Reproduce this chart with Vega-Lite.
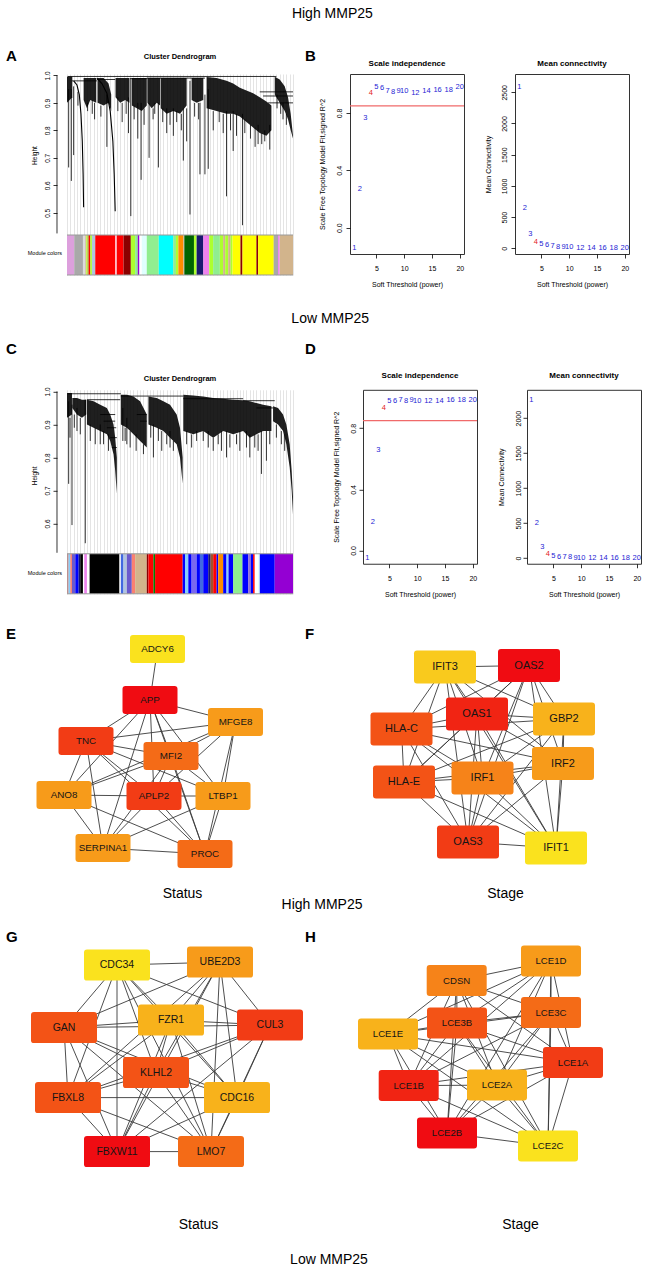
{
 "$schema": "https://vega.github.io/schema/vega-lite/v6.json",
 "background": "white",
 "padding": {"left": 6, "top": 6, "right": 2, "bottom": 2},
 "autosize": {"type": "pad"},
 "config": {
  "font": "Liberation Sans",
  "view": {"stroke": null},
  "axis": {"labelColor": "#000", "titleColor": "#000", "tickColor": "#000", "domainColor": "#000", "labelFont": "Liberation Sans", "titleFont": "Liberation Sans", "titleFontWeight": "normal", "grid": false},
  "title": {"font": "Liberation Sans", "color": "#000"}
 },
 "datasets": {
  "hi_sft": [
   {"power": 1, "r2": -0.144, "k": 2580}, {"power": 2, "r2": 0.267, "k": 641}, {"power": 3, "r2": 0.767, "k": 230},
   {"power": 4, "r2": 0.937, "k": 107}, {"power": 5, "r2": 0.984, "k": 69}, {"power": 6, "r2": 0.972, "k": 48},
   {"power": 7, "r2": 0.953, "k": 34}, {"power": 8, "r2": 0.947, "k": 25}, {"power": 9, "r2": 0.956, "k": 19},
   {"power": 10, "r2": 0.953, "k": 15}, {"power": 12, "r2": 0.942, "k": 10}, {"power": 14, "r2": 0.953, "k": 7},
   {"power": 16, "r2": 0.963, "k": 5}, {"power": 18, "r2": 0.96, "k": 4}, {"power": 20, "r2": 0.979, "k": 3}
  ],
  "lo_sft": [
   {"power": 1, "r2": -0.048, "k": 2262}, {"power": 2, "r2": 0.186, "k": 500}, {"power": 3, "r2": 0.659, "k": 157},
   {"power": 4, "r2": 0.934, "k": 62}, {"power": 5, "r2": 0.976, "k": 33}, {"power": 6, "r2": 0.98, "k": 22},
   {"power": 7, "r2": 0.983, "k": 16}, {"power": 8, "r2": 0.978, "k": 12}, {"power": 9, "r2": 0.983, "k": 9},
   {"power": 10, "r2": 0.98, "k": 7}, {"power": 12, "r2": 0.98, "k": 5}, {"power": 14, "r2": 0.98, "k": 3},
   {"power": 16, "r2": 0.987, "k": 2}, {"power": 18, "r2": 0.983, "k": 2}, {"power": 20, "r2": 0.983, "k": 1}
  ],
  "dA_canopy": [
   {"seg": 1, "u": 0, "top": 0.996, "bot": 0.9}, {"seg": 1, "u": 1.6, "top": 0.996, "bot": 0.92},
   {"seg": 2, "u": 5, "top": 0.99, "bot": 0.91}, {"seg": 2, "u": 6, "top": 0.99, "bot": 0.88}, {"seg": 2, "u": 7, "top": 0.99, "bot": 0.91}, {"seg": 2, "u": 8.8, "top": 0.99, "bot": 0.9},
   {"seg": 3, "u": 9.2, "top": 0.99, "bot": 0.9}, {"seg": 3, "u": 11, "top": 0.99, "bot": 0.89}, {"seg": 3, "u": 12.5, "top": 0.97, "bot": 0.9}, {"seg": 3, "u": 13.3, "top": 0.93, "bot": 0.87},
   {"seg": 4, "u": 14.6, "top": 0.99, "bot": 0.92}, {"seg": 4, "u": 16, "top": 0.99, "bot": 0.9}, {"seg": 4, "u": 17.5, "top": 0.99, "bot": 0.91}, {"seg": 4, "u": 18.8, "top": 0.99, "bot": 0.9},
   {"seg": 5, "u": 19.5, "top": 0.99, "bot": 0.89}, {"seg": 5, "u": 21, "top": 0.99, "bot": 0.88}, {"seg": 5, "u": 22.5, "top": 0.99, "bot": 0.87}, {"seg": 5, "u": 24, "top": 0.99, "bot": 0.89},
   {"seg": 6, "u": 24.2, "top": 0.99, "bot": 0.9}, {"seg": 6, "u": 25.5, "top": 0.99, "bot": 0.88}, {"seg": 6, "u": 27, "top": 0.99, "bot": 0.9}, {"seg": 6, "u": 28, "top": 0.99, "bot": 0.89},
   {"seg": 7, "u": 28.2, "top": 0.99, "bot": 0.88}, {"seg": 7, "u": 30, "top": 0.99, "bot": 0.86}, {"seg": 7, "u": 32, "top": 0.99, "bot": 0.87}, {"seg": 7, "u": 34, "top": 0.99, "bot": 0.86}, {"seg": 7, "u": 36, "top": 0.99, "bot": 0.89},
   {"seg": 8, "u": 37.5, "top": 0.99, "bot": 0.91}, {"seg": 8, "u": 39, "top": 0.99, "bot": 0.9}, {"seg": 8, "u": 41, "top": 0.99, "bot": 0.91},
   {"seg": 9, "u": 42, "top": 0.994, "bot": 0.88}, {"seg": 9, "u": 45, "top": 0.99, "bot": 0.87}, {"seg": 9, "u": 48, "top": 0.98, "bot": 0.86}, {"seg": 9, "u": 50, "top": 0.97, "bot": 0.86}, {"seg": 9, "u": 52, "top": 0.955, "bot": 0.85}, {"seg": 9, "u": 54, "top": 0.945, "bot": 0.83}, {"seg": 9, "u": 56, "top": 0.935, "bot": 0.81}, {"seg": 9, "u": 58, "top": 0.92, "bot": 0.79}, {"seg": 9, "u": 60, "top": 0.905, "bot": 0.78}, {"seg": 9, "u": 61.5, "top": 0.89, "bot": 0.8},
   {"seg": 10, "u": 62.5, "top": 0.995, "bot": 0.93}, {"seg": 10, "u": 64, "top": 0.985, "bot": 0.9}, {"seg": 10, "u": 65.5, "top": 0.96, "bot": 0.87}, {"seg": 10, "u": 66.5, "top": 0.92, "bot": 0.84}, {"seg": 10, "u": 67.3, "top": 0.86, "bot": 0.8}, {"seg": 10, "u": 68, "top": 0.78, "bot": 0.77}
  ],
  "dA_curves": [
   {"c": 1, "u": 2, "h": 0.98}, {"c": 1, "u": 3, "h": 0.965}, {"c": 1, "u": 3.7, "h": 0.93}, {"c": 1, "u": 4.2, "h": 0.86}, {"c": 1, "u": 4.6, "h": 0.76}, {"c": 1, "u": 4.85, "h": 0.64}, {"c": 1, "u": 5, "h": 0.52},
   {"c": 2, "u": 9, "h": 0.99}, {"c": 2, "u": 10.5, "h": 0.97}, {"c": 2, "u": 12, "h": 0.935}, {"c": 2, "u": 13, "h": 0.87}, {"c": 2, "u": 13.8, "h": 0.76}, {"c": 2, "u": 14.2, "h": 0.64}, {"c": 2, "u": 14.5, "h": 0.506}
  ],
  "dA_strands": [
   {"u": 0.5, "top": 0.95, "bot": 0.665}, {"u": 1.3, "top": 0.95, "bot": 0.616}, {"u": 2.0, "top": 0.96, "bot": 0.71}, {"u": 6.2, "top": 0.9, "bot": 0.87},
   {"u": 12, "top": 0.93, "bot": 0.74}, {"u": 18.5, "top": 0.92, "bot": 0.79}, {"u": 19.2, "top": 0.99, "bot": 0.488}, {"u": 21.3, "top": 0.9, "bot": 0.77},
   {"u": 22.3, "top": 0.9, "bot": 0.62}, {"u": 24.7, "top": 0.9, "bot": 0.7}, {"u": 27.5, "top": 0.9, "bot": 0.665}, {"u": 30, "top": 0.88, "bot": 0.79},
   {"u": 32, "top": 0.88, "bot": 0.78}, {"u": 35, "top": 0.88, "bot": 0.69}, {"u": 36, "top": 0.88, "bot": 0.76}, {"u": 37, "top": 0.98, "bot": 0.494},
   {"u": 40, "top": 0.9, "bot": 0.64}, {"u": 41.5, "top": 0.93, "bot": 0.64}, {"u": 42.5, "top": 0.95, "bot": 0.66}, {"u": 48, "top": 0.87, "bot": 0.56},
   {"u": 50, "top": 0.87, "bot": 0.725}, {"u": 52.8, "top": 0.86, "bot": 0.455}, {"u": 57.5, "top": 0.82, "bot": 0.75}, {"u": 59.5, "top": 0.8, "bot": 0.76},
   {"u": 61, "top": 0.82, "bot": 0.73}, {"u": 65, "top": 0.9, "bot": 0.84},
   {"u": 3.3, "top": 0.94, "bot": 0.89}, {"u": 7.6, "top": 0.91, "bot": 0.86}, {"u": 8.3, "top": 0.9, "bot": 0.84}, {"u": 10.2, "top": 0.89, "bot": 0.85},
   {"u": 15.3, "top": 0.92, "bot": 0.87}, {"u": 16.6, "top": 0.9, "bot": 0.83}, {"u": 17.8, "top": 0.91, "bot": 0.86}, {"u": 20.2, "top": 0.89, "bot": 0.84},
   {"u": 23.2, "top": 0.88, "bot": 0.82}, {"u": 25.9, "top": 0.88, "bot": 0.84}, {"u": 26.4, "top": 0.9, "bot": 0.86}, {"u": 28.8, "top": 0.88, "bot": 0.83},
   {"u": 31, "top": 0.87, "bot": 0.82}, {"u": 33, "top": 0.87, "bot": 0.83}, {"u": 34.4, "top": 0.86, "bot": 0.8}, {"u": 38.4, "top": 0.9, "bot": 0.85},
   {"u": 39.6, "top": 0.9, "bot": 0.84}, {"u": 44, "top": 0.87, "bot": 0.8}, {"u": 45.8, "top": 0.87, "bot": 0.83}, {"u": 47, "top": 0.86, "bot": 0.79},
   {"u": 49.2, "top": 0.86, "bot": 0.8}, {"u": 51, "top": 0.86, "bot": 0.78}, {"u": 53.5, "top": 0.84, "bot": 0.79}, {"u": 55.2, "top": 0.82, "bot": 0.77},
   {"u": 56.6, "top": 0.81, "bot": 0.74}, {"u": 58.6, "top": 0.79, "bot": 0.75}, {"u": 63.2, "top": 0.93, "bot": 0.88}, {"u": 64.3, "top": 0.9, "bot": 0.86},
   {"u": 66, "top": 0.86, "bot": 0.82}
  ],
  "dA_tops": [
   {"u": 0.3, "u2": 63, "h": 0.996}, {"u": 1.5, "u2": 9, "h": 0.98}, {"u": 9, "u2": 14.5, "h": 0.985}, {"u": 19, "u2": 24, "h": 0.988},
   {"u": 24, "u2": 41.5, "h": 0.99}, {"u": 58, "u2": 68, "h": 0.94}, {"u": 59, "u2": 68, "h": 0.925}, {"u": 60.5, "u2": 68, "h": 0.9}
  ],
  "mcA": [
   {"u": 0, "u2": 2.2, "module": "plum"}, {"u": 2.2, "u2": 4.8, "module": "darkgrey"}, {"u": 4.8, "u2": 5.5, "module": "gainsboro"},
   {"u": 5.5, "u2": 5.8, "module": "tan"}, {"u": 5.8, "u2": 6.2, "module": "greenyellow"}, {"u": 6.2, "u2": 6.6, "module": "peru"},
   {"u": 6.6, "u2": 7.0, "module": "red"}, {"u": 7.0, "u2": 7.5, "module": "greenyellow"}, {"u": 7.5, "u2": 8.5, "module": "lightsteelblue"},
   {"u": 8.5, "u2": 14.5, "module": "red"}, {"u": 14.5, "u2": 15, "module": "lightpink"}, {"u": 15, "u2": 17, "module": "red"},
   {"u": 17, "u2": 19.2, "module": "darkred"}, {"u": 19.2, "u2": 20.5, "module": "greenyellow"}, {"u": 20.5, "u2": 21.3, "module": "lightgreen"},
   {"u": 21.3, "u2": 21.8, "module": "darkviolet"}, {"u": 21.8, "u2": 22.5, "module": "white"}, {"u": 22.5, "u2": 24, "module": "lightcyan"},
   {"u": 24, "u2": 27.6, "module": "lightgreen"}, {"u": 27.6, "u2": 32, "module": "cyan"}, {"u": 32, "u2": 32.8, "module": "lightgreen"},
   {"u": 32.8, "u2": 33.5, "module": "greenyellow"}, {"u": 33.5, "u2": 35, "module": "darkorange"}, {"u": 35, "u2": 35.3, "module": "tan"},
   {"u": 35.3, "u2": 38.2, "module": "darkgreen"}, {"u": 38.2, "u2": 39, "module": "greenyellow"}, {"u": 39, "u2": 41, "module": "midnightblue"},
   {"u": 41, "u2": 42.8, "module": "violet"}, {"u": 42.8, "u2": 44, "module": "greenyellow"}, {"u": 44, "u2": 46, "module": "lightgreen"},
   {"u": 46, "u2": 47, "module": "greenyellow"}, {"u": 47, "u2": 47.6, "module": "tan"}, {"u": 47.6, "u2": 48.5, "module": "greenyellow"},
   {"u": 48.5, "u2": 49.2, "module": "tan"}, {"u": 49.2, "u2": 49.8, "module": "greenyellow"}, {"u": 49.8, "u2": 52.2, "module": "yellow"},
   {"u": 52.2, "u2": 52.8, "module": "darkred"}, {"u": 52.8, "u2": 57, "module": "yellow"}, {"u": 57, "u2": 57.5, "module": "darkred"},
   {"u": 57.5, "u2": 62.2, "module": "yellow"}, {"u": 62.2, "u2": 63.5, "module": "darkgrey"}, {"u": 63.5, "u2": 64, "module": "violet"},
   {"u": 64, "u2": 68, "module": "tan"}
  ],
  "dC_canopy": [
   {"seg": 1, "u": 0, "top": 0.995, "bot": 0.92}, {"seg": 1, "u": 1.5, "top": 0.995, "bot": 0.93},
   {"seg": 2, "u": 1.6, "top": 0.98, "bot": 0.95}, {"seg": 2, "u": 3, "top": 0.98, "bot": 0.93}, {"seg": 2, "u": 4.5, "top": 0.975, "bot": 0.92}, {"seg": 2, "u": 5.8, "top": 0.975, "bot": 0.93},
   {"seg": 3, "u": 6, "top": 0.975, "bot": 0.9}, {"seg": 3, "u": 8, "top": 0.97, "bot": 0.89}, {"seg": 3, "u": 10, "top": 0.96, "bot": 0.88}, {"seg": 3, "u": 12, "top": 0.95, "bot": 0.87}, {"seg": 3, "u": 13, "top": 0.93, "bot": 0.85}, {"seg": 3, "u": 14, "top": 0.9, "bot": 0.81}, {"seg": 3, "u": 14.5, "top": 0.86, "bot": 0.76}, {"seg": 3, "u": 15, "top": 0.8, "bot": 0.69},
   {"seg": 4, "u": 16.2, "top": 0.99, "bot": 0.9}, {"seg": 4, "u": 18, "top": 0.99, "bot": 0.89}, {"seg": 4, "u": 20, "top": 0.985, "bot": 0.87}, {"seg": 4, "u": 22, "top": 0.97, "bot": 0.85}, {"seg": 4, "u": 24, "top": 0.93, "bot": 0.83},
   {"seg": 5, "u": 24.5, "top": 0.985, "bot": 0.9}, {"seg": 5, "u": 27, "top": 0.98, "bot": 0.89}, {"seg": 5, "u": 29, "top": 0.97, "bot": 0.88}, {"seg": 5, "u": 31, "top": 0.96, "bot": 0.86}, {"seg": 5, "u": 33, "top": 0.93, "bot": 0.84}, {"seg": 5, "u": 34, "top": 0.89, "bot": 0.8}, {"seg": 5, "u": 34.8, "top": 0.8, "bot": 0.72},
   {"seg": 6, "u": 35, "top": 0.99, "bot": 0.88}, {"seg": 6, "u": 38, "top": 0.988, "bot": 0.87}, {"seg": 6, "u": 41, "top": 0.985, "bot": 0.88}, {"seg": 6, "u": 44, "top": 0.98, "bot": 0.86}, {"seg": 6, "u": 47, "top": 0.978, "bot": 0.88}, {"seg": 6, "u": 50, "top": 0.975, "bot": 0.87}, {"seg": 6, "u": 53, "top": 0.973, "bot": 0.88}, {"seg": 6, "u": 55, "top": 0.97, "bot": 0.86}, {"seg": 6, "u": 57, "top": 0.965, "bot": 0.87}, {"seg": 6, "u": 59, "top": 0.96, "bot": 0.88}, {"seg": 6, "u": 61.5, "top": 0.955, "bot": 0.88},
   {"seg": 7, "u": 62, "top": 0.955, "bot": 0.91}, {"seg": 7, "u": 63.5, "top": 0.95, "bot": 0.9}, {"seg": 7, "u": 65, "top": 0.93, "bot": 0.88}, {"seg": 7, "u": 66, "top": 0.9, "bot": 0.84}, {"seg": 7, "u": 67, "top": 0.84, "bot": 0.77}, {"seg": 7, "u": 67.6, "top": 0.76, "bot": 0.7}, {"seg": 7, "u": 68, "top": 0.68, "bot": 0.627}
  ],
  "dC_strands": [
   {"u": 0.5, "top": 0.97, "bot": 0.72}, {"u": 1.5, "top": 0.96, "bot": 0.595}, {"u": 5.5, "top": 0.975, "bot": 0.54}, {"u": 3, "top": 0.95, "bot": 0.88},
   {"u": 10, "top": 0.9, "bot": 0.84}, {"u": 16.8, "top": 0.95, "bot": 0.85}, {"u": 18, "top": 0.92, "bot": 0.84}, {"u": 26, "top": 0.9, "bot": 0.8},
   {"u": 31, "top": 0.88, "bot": 0.83}, {"u": 41, "top": 0.88, "bot": 0.85}, {"u": 48, "top": 0.88, "bot": 0.8}, {"u": 55, "top": 0.87, "bot": 0.8},
   {"u": 58.5, "top": 0.88, "bot": 0.75}, {"u": 60, "top": 0.88, "bot": 0.79},
   {"u": 0.9, "top": 0.92, "bot": 0.86}, {"u": 2.2, "top": 0.93, "bot": 0.89}, {"u": 4, "top": 0.92, "bot": 0.87}, {"u": 7, "top": 0.9, "bot": 0.85},
   {"u": 8.5, "top": 0.89, "bot": 0.84}, {"u": 11, "top": 0.88, "bot": 0.84}, {"u": 12.5, "top": 0.87, "bot": 0.82}, {"u": 17.5, "top": 0.89, "bot": 0.85},
   {"u": 19, "top": 0.88, "bot": 0.83}, {"u": 20.8, "top": 0.87, "bot": 0.82}, {"u": 23, "top": 0.84, "bot": 0.81}, {"u": 25.2, "top": 0.9, "bot": 0.86},
   {"u": 27.5, "top": 0.89, "bot": 0.85}, {"u": 28.5, "top": 0.88, "bot": 0.82}, {"u": 30, "top": 0.87, "bot": 0.84}, {"u": 32, "top": 0.85, "bot": 0.82},
   {"u": 36, "top": 0.88, "bot": 0.84}, {"u": 37.5, "top": 0.87, "bot": 0.83}, {"u": 39, "top": 0.88, "bot": 0.85}, {"u": 42.5, "top": 0.88, "bot": 0.83},
   {"u": 44, "top": 0.86, "bot": 0.82}, {"u": 45.5, "top": 0.87, "bot": 0.84}, {"u": 46.5, "top": 0.88, "bot": 0.82}, {"u": 49, "top": 0.87, "bot": 0.83},
   {"u": 51, "top": 0.87, "bot": 0.84}, {"u": 52, "top": 0.88, "bot": 0.82}, {"u": 54, "top": 0.88, "bot": 0.83}, {"u": 56.5, "top": 0.87, "bot": 0.83},
   {"u": 57.5, "top": 0.87, "bot": 0.82}, {"u": 61, "top": 0.88, "bot": 0.84}, {"u": 63, "top": 0.9, "bot": 0.86}, {"u": 64.5, "top": 0.88, "bot": 0.84},
   {"u": 65.5, "top": 0.87, "bot": 0.82}
  ],
  "dC_tops": [
   {"u": 0.3, "u2": 16.2, "h": 0.993}, {"u": 16.2, "u2": 35, "h": 0.986}, {"u": 35, "u2": 53, "h": 0.978}, {"u": 53, "u2": 62.5, "h": 0.972},
   {"u": 6, "u2": 16, "h": 0.975}, {"u": 10, "u2": 14.5, "h": 0.93}, {"u": 11, "u2": 14.5, "h": 0.91}, {"u": 12, "u2": 14.8, "h": 0.89},
   {"u": 13, "u2": 15, "h": 0.86}, {"u": 13.5, "u2": 15, "h": 0.83}, {"u": 21, "u2": 24, "h": 0.93}, {"u": 22, "u2": 24, "h": 0.91}, {"u": 57, "u2": 62, "h": 0.95}
  ],
  "mcC": [
   {"u": 0, "u2": 0.5, "module": "rosybrown"}, {"u": 0.5, "u2": 1, "module": "lightskyblue"}, {"u": 1, "u2": 1.5, "module": "salmon"},
   {"u": 1.5, "u2": 2.5, "module": "slateblue"}, {"u": 2.5, "u2": 3.5, "module": "blue"}, {"u": 3.5, "u2": 4, "module": "midnightblue"},
   {"u": 4, "u2": 4.8, "module": "black"}, {"u": 4.8, "u2": 5.2, "module": "white"}, {"u": 5.2, "u2": 6, "module": "violet"},
   {"u": 6, "u2": 6.8, "module": "white"}, {"u": 6.8, "u2": 15.8, "module": "black"}, {"u": 15.8, "u2": 16.2, "module": "white"},
   {"u": 16.2, "u2": 17, "module": "royalblue"}, {"u": 17, "u2": 18, "module": "lightsteelblue"}, {"u": 18, "u2": 19.5, "module": "slateblue"},
   {"u": 19.5, "u2": 20.5, "module": "salmon"}, {"u": 20.5, "u2": 24, "module": "tan"}, {"u": 24, "u2": 24.5, "module": "darkred"},
   {"u": 24.5, "u2": 26, "module": "red"}, {"u": 26, "u2": 26.5, "module": "green"}, {"u": 26.5, "u2": 34.8, "module": "red"},
   {"u": 34.8, "u2": 35.5, "module": "blue"}, {"u": 35.5, "u2": 36.5, "module": "lightskyblue"}, {"u": 36.5, "u2": 37.5, "module": "blue"},
   {"u": 37.5, "u2": 39, "module": "mediumslateblue"}, {"u": 39, "u2": 40, "module": "blue"}, {"u": 40, "u2": 41, "module": "royalblue"},
   {"u": 41, "u2": 42.5, "module": "blue"}, {"u": 42.5, "u2": 43.2, "module": "midnightblue"}, {"u": 43.2, "u2": 44, "module": "sienna"},
   {"u": 44, "u2": 45, "module": "red"}, {"u": 45, "u2": 45.5, "module": "blue"}, {"u": 45.5, "u2": 47, "module": "darkorange"},
   {"u": 47, "u2": 48, "module": "blue"}, {"u": 48, "u2": 48.6, "module": "lightskyblue"}, {"u": 48.6, "u2": 50, "module": "blue"},
   {"u": 50, "u2": 52.8, "module": "lightgreen"}, {"u": 52.8, "u2": 54.5, "module": "blue"}, {"u": 54.5, "u2": 55.3, "module": "mediumpurple"},
   {"u": 55.3, "u2": 56, "module": "blue"}, {"u": 56, "u2": 56.5, "module": "red"}, {"u": 56.5, "u2": 57.5, "module": "white"},
   {"u": 57.5, "u2": 58, "module": "lightcyan"}, {"u": 58, "u2": 62.5, "module": "blue"}, {"u": 62.5, "u2": 68, "module": "darkviolet"}
  ],
  "nodesE": [
   {"name": "ADCY6", "x": 157.5, "y": 29, "rank": 10}, {"name": "APP", "x": 150, "y": 80, "rank": 1},
   {"name": "MFGE8", "x": 235.5, "y": 102, "rank": 7}, {"name": "TNC", "x": 86, "y": 121, "rank": 3},
   {"name": "MFI2", "x": 171, "y": 136, "rank": 5}, {"name": "ANO8", "x": 64, "y": 175, "rank": 7},
   {"name": "APLP2", "x": 154, "y": 176, "rank": 3}, {"name": "LTBP1", "x": 223, "y": 176, "rank": 7},
   {"name": "SERPINA1", "x": 103, "y": 228, "rank": 7}, {"name": "PROC", "x": 205, "y": 234, "rank": 5}
  ],
  "edgesE": [
   {"s": "ADCY6", "t": "APP"},
   {"s": "APP", "t": "MFGE8"}, {"s": "APP", "t": "TNC"}, {"s": "APP", "t": "MFI2"}, {"s": "APP", "t": "ANO8"}, {"s": "APP", "t": "APLP2"}, {"s": "APP", "t": "LTBP1"}, {"s": "APP", "t": "SERPINA1"}, {"s": "APP", "t": "PROC"},
   {"s": "MFGE8", "t": "TNC"}, {"s": "MFGE8", "t": "MFI2"}, {"s": "MFGE8", "t": "APLP2"}, {"s": "MFGE8", "t": "LTBP1"}, {"s": "MFGE8", "t": "PROC"}, {"s": "MFGE8", "t": "ANO8"},
   {"s": "TNC", "t": "MFI2"}, {"s": "TNC", "t": "ANO8"}, {"s": "TNC", "t": "APLP2"}, {"s": "TNC", "t": "LTBP1"}, {"s": "TNC", "t": "SERPINA1"}, {"s": "TNC", "t": "PROC"},
   {"s": "MFI2", "t": "ANO8"}, {"s": "MFI2", "t": "APLP2"}, {"s": "MFI2", "t": "LTBP1"}, {"s": "MFI2", "t": "SERPINA1"}, {"s": "MFI2", "t": "PROC"},
   {"s": "ANO8", "t": "APLP2"}, {"s": "ANO8", "t": "SERPINA1"}, {"s": "ANO8", "t": "PROC"},
   {"s": "APLP2", "t": "LTBP1"}, {"s": "APLP2", "t": "SERPINA1"}, {"s": "APLP2", "t": "PROC"},
   {"s": "LTBP1", "t": "SERPINA1"}, {"s": "LTBP1", "t": "PROC"}, {"s": "SERPINA1", "t": "PROC"}
  ],
  "nodesF": [
   {"name": "IFIT3", "x": 115, "y": 47, "rank": 9}, {"name": "OAS2", "x": 199, "y": 45.5, "rank": 1},
   {"name": "OAS1", "x": 147, "y": 94, "rank": 2}, {"name": "GBP2", "x": 234, "y": 99, "rank": 8},
   {"name": "HLA-C", "x": 71.5, "y": 109, "rank": 4}, {"name": "IRF2", "x": 233, "y": 143.5, "rank": 7},
   {"name": "HLA-E", "x": 74, "y": 162, "rank": 4}, {"name": "IRF1", "x": 152.5, "y": 158, "rank": 6},
   {"name": "OAS3", "x": 138, "y": 222, "rank": 3}, {"name": "IFIT1", "x": 226, "y": 228, "rank": 10}
  ],
  "edgesF": [
   {"s": "IFIT3", "t": "OAS2"}, {"s": "IFIT3", "t": "OAS1"}, {"s": "IFIT3", "t": "GBP2"}, {"s": "IFIT3", "t": "HLA-C"}, {"s": "IFIT3", "t": "IRF2"}, {"s": "IFIT3", "t": "HLA-E"}, {"s": "IFIT3", "t": "IRF1"}, {"s": "IFIT3", "t": "OAS3"}, {"s": "IFIT3", "t": "IFIT1"},
   {"s": "OAS2", "t": "OAS1"}, {"s": "OAS2", "t": "GBP2"}, {"s": "OAS2", "t": "HLA-C"}, {"s": "OAS2", "t": "IRF2"}, {"s": "OAS2", "t": "HLA-E"}, {"s": "OAS2", "t": "IRF1"}, {"s": "OAS2", "t": "OAS3"}, {"s": "OAS2", "t": "IFIT1"},
   {"s": "OAS1", "t": "GBP2"}, {"s": "OAS1", "t": "HLA-C"}, {"s": "OAS1", "t": "IRF2"}, {"s": "OAS1", "t": "HLA-E"}, {"s": "OAS1", "t": "IRF1"}, {"s": "OAS1", "t": "OAS3"}, {"s": "OAS1", "t": "IFIT1"},
   {"s": "GBP2", "t": "HLA-C"}, {"s": "GBP2", "t": "IRF2"}, {"s": "GBP2", "t": "HLA-E"}, {"s": "GBP2", "t": "IRF1"}, {"s": "GBP2", "t": "OAS3"}, {"s": "GBP2", "t": "IFIT1"},
   {"s": "HLA-C", "t": "IRF2"}, {"s": "HLA-C", "t": "HLA-E"}, {"s": "HLA-C", "t": "IRF1"}, {"s": "HLA-C", "t": "OAS3"}, {"s": "HLA-C", "t": "IFIT1"},
   {"s": "IRF2", "t": "HLA-E"}, {"s": "IRF2", "t": "IRF1"}, {"s": "IRF2", "t": "OAS3"}, {"s": "IRF2", "t": "IFIT1"},
   {"s": "HLA-E", "t": "IRF1"}, {"s": "HLA-E", "t": "OAS3"}, {"s": "HLA-E", "t": "IFIT1"},
   {"s": "IRF1", "t": "OAS3"}, {"s": "IRF1", "t": "IFIT1"}, {"s": "OAS3", "t": "IFIT1"}
  ],
  "nodesG": [
   {"name": "CDC34", "x": 117, "y": 64.5, "rank": 10}, {"name": "UBE2D3", "x": 220, "y": 61.5, "rank": 7},
   {"name": "GAN", "x": 64, "y": 127, "rank": 4}, {"name": "FZR1", "x": 171, "y": 119.5, "rank": 8},
   {"name": "CUL3", "x": 270, "y": 124.5, "rank": 3}, {"name": "KLHL2", "x": 156, "y": 172, "rank": 4},
   {"name": "FBXL8", "x": 68, "y": 197, "rank": 4}, {"name": "CDC16", "x": 237, "y": 197, "rank": 8},
   {"name": "FBXW11", "x": 117, "y": 251, "rank": 1}, {"name": "LMO7", "x": 211, "y": 251, "rank": 5}
  ],
  "edgesG": [
   {"s": "CDC34", "t": "UBE2D3"}, {"s": "CDC34", "t": "GAN"}, {"s": "CDC34", "t": "FZR1"}, {"s": "CDC34", "t": "CUL3"}, {"s": "CDC34", "t": "KLHL2"}, {"s": "CDC34", "t": "FBXL8"}, {"s": "CDC34", "t": "CDC16"}, {"s": "CDC34", "t": "FBXW11"}, {"s": "CDC34", "t": "LMO7"},
   {"s": "UBE2D3", "t": "GAN"}, {"s": "UBE2D3", "t": "FZR1"}, {"s": "UBE2D3", "t": "CUL3"}, {"s": "UBE2D3", "t": "KLHL2"}, {"s": "UBE2D3", "t": "FBXL8"}, {"s": "UBE2D3", "t": "CDC16"}, {"s": "UBE2D3", "t": "FBXW11"}, {"s": "UBE2D3", "t": "LMO7"},
   {"s": "GAN", "t": "FZR1"}, {"s": "GAN", "t": "CUL3"}, {"s": "GAN", "t": "KLHL2"}, {"s": "GAN", "t": "FBXL8"}, {"s": "GAN", "t": "CDC16"}, {"s": "GAN", "t": "FBXW11"}, {"s": "GAN", "t": "LMO7"},
   {"s": "FZR1", "t": "CUL3"}, {"s": "FZR1", "t": "KLHL2"}, {"s": "FZR1", "t": "FBXL8"}, {"s": "FZR1", "t": "CDC16"}, {"s": "FZR1", "t": "FBXW11"}, {"s": "FZR1", "t": "LMO7"},
   {"s": "CUL3", "t": "KLHL2"}, {"s": "CUL3", "t": "FBXL8"}, {"s": "CUL3", "t": "CDC16"}, {"s": "CUL3", "t": "FBXW11"}, {"s": "CUL3", "t": "LMO7"},
   {"s": "KLHL2", "t": "FBXL8"}, {"s": "KLHL2", "t": "CDC16"}, {"s": "KLHL2", "t": "FBXW11"}, {"s": "KLHL2", "t": "LMO7"},
   {"s": "FBXL8", "t": "CDC16"}, {"s": "FBXL8", "t": "FBXW11"}, {"s": "FBXL8", "t": "LMO7"},
   {"s": "CDC16", "t": "FBXW11"}, {"s": "CDC16", "t": "LMO7"}, {"s": "FBXW11", "t": "LMO7"}
  ],
  "nodesH": [
   {"name": "LCE1D", "x": 221, "y": 60.5, "rank": 7}, {"name": "CDSN", "x": 126.7, "y": 80, "rank": 6},
   {"name": "LCE3C", "x": 221, "y": 112, "rank": 5}, {"name": "LCE3B", "x": 127, "y": 122.5, "rank": 4},
   {"name": "LCE1E", "x": 58, "y": 133.5, "rank": 8}, {"name": "LCE1A", "x": 243, "y": 162, "rank": 3},
   {"name": "LCE1B", "x": 78.7, "y": 185, "rank": 2}, {"name": "LCE2A", "x": 167, "y": 184.5, "rank": 8},
   {"name": "LCE2B", "x": 117, "y": 232.5, "rank": 1}, {"name": "LCE2C", "x": 218, "y": 245.5, "rank": 10}
  ],
  "edgesH": [
   {"s": "LCE1D", "t": "CDSN"}, {"s": "LCE1D", "t": "LCE3C"}, {"s": "LCE1D", "t": "LCE3B"}, {"s": "LCE1D", "t": "LCE1E"}, {"s": "LCE1D", "t": "LCE1A"}, {"s": "LCE1D", "t": "LCE1B"}, {"s": "LCE1D", "t": "LCE2A"}, {"s": "LCE1D", "t": "LCE2B"}, {"s": "LCE1D", "t": "LCE2C"},
   {"s": "CDSN", "t": "LCE3C"}, {"s": "CDSN", "t": "LCE3B"}, {"s": "CDSN", "t": "LCE1E"}, {"s": "CDSN", "t": "LCE1A"}, {"s": "CDSN", "t": "LCE1B"}, {"s": "CDSN", "t": "LCE2A"}, {"s": "CDSN", "t": "LCE2B"}, {"s": "CDSN", "t": "LCE2C"},
   {"s": "LCE3C", "t": "LCE3B"}, {"s": "LCE3C", "t": "LCE1E"}, {"s": "LCE3C", "t": "LCE1A"}, {"s": "LCE3C", "t": "LCE1B"}, {"s": "LCE3C", "t": "LCE2A"}, {"s": "LCE3C", "t": "LCE2B"}, {"s": "LCE3C", "t": "LCE2C"},
   {"s": "LCE3B", "t": "LCE1E"}, {"s": "LCE3B", "t": "LCE1A"}, {"s": "LCE3B", "t": "LCE1B"}, {"s": "LCE3B", "t": "LCE2A"}, {"s": "LCE3B", "t": "LCE2B"}, {"s": "LCE3B", "t": "LCE2C"},
   {"s": "LCE1E", "t": "LCE1A"}, {"s": "LCE1E", "t": "LCE1B"}, {"s": "LCE1E", "t": "LCE2A"}, {"s": "LCE1E", "t": "LCE2B"}, {"s": "LCE1E", "t": "LCE2C"},
   {"s": "LCE1A", "t": "LCE1B"}, {"s": "LCE1A", "t": "LCE2A"}, {"s": "LCE1A", "t": "LCE2B"}, {"s": "LCE1A", "t": "LCE2C"},
   {"s": "LCE1B", "t": "LCE2A"}, {"s": "LCE1B", "t": "LCE2B"}, {"s": "LCE1B", "t": "LCE2C"},
   {"s": "LCE2A", "t": "LCE2B"}, {"s": "LCE2A", "t": "LCE2C"}, {"s": "LCE2B", "t": "LCE2C"}
  ]
 },
 "spacing": 21.8,
 "vconcat": [
  {
   "bounds": "flush",
   "spacing": 12,
   "title": {"text": "High MMP25", "fontSize": 14, "fontWeight": "normal", "anchor": "middle", "frame": "bounds", "offset": 28, "dx": 14.6},
   "hconcat": [
    {"width": 49, "height": 1, "data": {"values": []}, "mark": "point",
     "title": {"text": "A", "anchor": "start", "frame": "group", "offset": -1.8, "fontSize": 15, "fontWeight": "bold", "baseline": "alphabetic"}},
    {
     "width": 226, "height": 201,
     "title": {"text": "Cluster Dendrogram", "anchor": "middle", "frame": "group", "fontSize": 7.5, "fontWeight": "bold", "offset": 4, "baseline": "alphabetic"},
     "layer": [
      {"data": {"name": "dA_canopy"}, "mark": {"type": "area", "color": "black", "opacity": 0.88},
       "encoding": {
        "x": {"field": "u", "type": "quantitative", "scale": {"domain": [0, 68], "nice": false, "zero": false},
              "axis": {"grid": true, "gridColor": "#d2d2d2", "gridWidth": 0.6, "tickCount": 68, "labels": false, "ticks": false, "domain": false, "title": null}},
        "y": {"field": "top", "type": "quantitative", "scale": {"domain": [0.2738, 1.005], "nice": false, "zero": false},
              "axis": {"orient": "left", "offset": 10, "values": [0.5, 0.6, 0.7, 0.8, 0.9, 1.0], "format": ".1f", "labelAngle": 270, "labelAlign": "center", "labelBaseline": "bottom", "labelFontSize": 6.5, "labelPadding": 2.1, "tickSize": 4, "tickWidth": 0.8, "domain": false, "title": "Height", "titleFontSize": 6.5, "titlePadding": 7.9, "titleY": 81}},
        "y2": {"field": "bot"},
        "detail": {"field": "seg"}
       }},
      {"data": {"name": "dA_curves"}, "mark": {"type": "line", "color": "black", "strokeWidth": 1.1},
       "encoding": {"x": {"field": "u", "type": "quantitative"}, "y": {"field": "h", "type": "quantitative"}, "detail": {"field": "c"}}},
      {"data": {"name": "dA_strands"}, "mark": {"type": "rule", "color": "black", "strokeWidth": 0.8},
       "encoding": {"x": {"field": "u", "type": "quantitative"}, "y": {"field": "top", "type": "quantitative"}, "y2": {"field": "bot"}}},
      {"data": {"name": "dA_tops"}, "mark": {"type": "rule", "color": "black", "strokeWidth": 0.8},
       "encoding": {"x": {"field": "u", "type": "quantitative"}, "x2": {"field": "u2"}, "y": {"field": "h", "type": "quantitative"}}},
      {"data": {"name": "mcA"}, "mark": {"type": "rect"},
       "encoding": {"x": {"field": "u", "type": "quantitative"}, "x2": {"field": "u2"}, "y": {"datum": 0.2738}, "y2": {"datum": 0.4193},
        "color": {"field": "module", "type": "nominal", "scale": null, "legend": null}}},
      {"data": {"values": [{}]}, "mark": {"type": "rule", "color": "#9a9a9a", "strokeWidth": 1},
       "encoding": {"x": {"datum": 0}, "x2": {"datum": 68}, "y": {"datum": 0.4193}}},
      {"data": {"values": [{}]}, "mark": {"type": "rule", "color": "#9a9a9a", "strokeWidth": 1},
       "encoding": {"x": {"datum": 0}, "x2": {"datum": 68}, "y": {"datum": 0.2738}}},
      {"data": {"values": [{}]}, "mark": {"type": "rule", "color": "black", "strokeWidth": 0.8},
       "encoding": {"x": {"datum": -3.009}, "y": {"datum": 0.425}, "y2": {"datum": 1.0}}},
      {"data": {"values": [{"lab": "Module colors"}]}, "mark": {"type": "text", "align": "right", "baseline": "middle", "fontSize": 5.5, "color": "black"},
       "encoding": {"x": {"datum": -1.5}, "y": {"datum": 0.354}, "text": {"field": "lab"}}}
     ]
    },
    {"width": 33, "height": 1, "data": {"values": []}, "mark": "point",
     "title": {"text": "B", "anchor": "start", "frame": "group", "offset": -1.8, "fontSize": 15, "fontWeight": "bold", "baseline": "alphabetic"}},
    {
     "width": 114, "height": 180,
     "view": {"stroke": "#333", "strokeWidth": 1},
     "title": {"text": "Scale independence", "anchor": "middle", "frame": "group", "fontSize": 8, "fontWeight": "bold", "offset": 0, "baseline": "alphabetic"},
     "layer": [
      {"data": {"name": "hi_sft"}, "mark": {"type": "text", "fontSize": 7.5},
       "encoding": {
        "x": {"field": "power", "type": "quantitative", "scale": {"domain": [0.24, 20.76], "nice": false, "zero": false},
              "axis": {"values": [5, 10, 15, 20], "tickSize": 4, "tickWidth": 0.8, "labelPadding": 6.5, "labelFontSize": 7, "labelFlush": false, "labelOverlap": false, "domain": false, "title": "Soft Threshold (power)", "titleFontSize": 7, "titlePadding": 9.2}},
        "y": {"field": "r2", "type": "quantitative", "scale": {"domain": [-0.184, 1.0719], "nice": false, "zero": false},
              "axis": {"values": [0, 0.2, 0.4, 0.6, 0.8, 1.0], "format": ".1f", "labelAngle": 270, "labelAlign": "center", "labelBaseline": "bottom", "tickSize": 4, "tickWidth": 0.8, "labelPadding": 3.7, "labelFontSize": 7, "labelOverlap": false, "domain": false, "title": "Scale Free Topology Model Fit,signed R^2", "titleFontSize": 7, "titlePadding": 9.6}},
        "text": {"field": "power", "type": "quantitative"},
        "color": {"condition": {"test": "datum.power === 4", "value": "#E41A1A"}, "value": "#2424D4"}
       }},
      {"data": {"values": [{"cut": 0.85}]}, "mark": {"type": "rule", "color": "#F06A6A", "strokeWidth": 1.2}, "encoding": {"y": {"field": "cut", "type": "quantitative"}}}
     ]
    },
    {"width": 26.7, "height": 1, "data": {"values": []}, "mark": "point"},
    {
     "width": 114, "height": 180,
     "view": {"stroke": "#333", "strokeWidth": 1},
     "title": {"text": "Mean connectivity", "anchor": "middle", "frame": "group", "fontSize": 8, "fontWeight": "bold", "offset": 0, "baseline": "alphabetic"},
     "data": {"name": "hi_sft"},
     "mark": {"type": "text", "fontSize": 7.5},
     "encoding": {
      "x": {"field": "power", "type": "quantitative", "scale": {"domain": [0.24, 20.76], "nice": false, "zero": false},
            "axis": {"values": [5, 10, 15, 20], "tickSize": 4, "tickWidth": 0.8, "labelPadding": 6.5, "labelFontSize": 7, "labelFlush": false, "labelOverlap": false, "domain": false, "title": "Soft Threshold (power)", "titleFontSize": 7, "titlePadding": 9.2}},
      "y": {"field": "k", "type": "quantitative", "scale": {"domain": [-91, 2793], "nice": false, "zero": false},
            "axis": {"values": [0, 500, 1000, 1500, 2000, 2500], "format": "d", "labelAngle": 270, "labelAlign": "center", "labelBaseline": "bottom", "tickSize": 4, "tickWidth": 0.8, "labelPadding": 3.4, "labelFontSize": 7, "labelOverlap": false, "domain": false, "title": "Mean Connectivity", "titleFontSize": 7, "titlePadding": 9.6}},
      "text": {"field": "power", "type": "quantitative"},
      "color": {"condition": {"test": "datum.power === 4", "value": "#E41A1A"}, "value": "#2424D4"}
     }
    }
   ]
  },
  {
   "spacing": 27.2,
   "vconcat": [
    {
     "bounds": "flush",
     "spacing": 12,
     "title": {"text": "Low MMP25", "fontSize": 14, "fontWeight": "normal", "anchor": "middle", "frame": "bounds", "offset": 15.9, "dx": 6.5},
     "hconcat": [
      {"width": 49, "height": 1, "data": {"values": []}, "mark": "point",
       "title": {"text": "C", "anchor": "start", "frame": "group", "offset": 21.15, "fontSize": 15, "fontWeight": "bold", "baseline": "alphabetic"}},
      {
       "width": 226, "height": 204,
       "title": {"text": "Cluster Dendrogram", "anchor": "middle", "frame": "group", "fontSize": 7.5, "fontWeight": "bold", "offset": -1.5, "baseline": "alphabetic"},
       "layer": [
        {"data": {"name": "dC_canopy"}, "mark": {"type": "area", "color": "black", "opacity": 0.88},
         "encoding": {
          "x": {"field": "u", "type": "quantitative", "scale": {"domain": [0, 68], "nice": false, "zero": false},
                "axis": {"grid": true, "gridColor": "#d2d2d2", "gridWidth": 0.6, "tickCount": 68, "labels": false, "ticks": false, "domain": false, "title": null}},
          "y": {"field": "top", "type": "quantitative", "scale": {"domain": [0.3867, 1.005], "nice": false, "zero": false},
                "axis": {"orient": "left", "offset": 10, "values": [0.6, 0.7, 0.8, 0.9, 1.0], "format": ".1f", "labelAngle": 270, "labelAlign": "center", "labelBaseline": "bottom", "labelFontSize": 6.5, "labelPadding": 2.1, "tickSize": 4, "tickWidth": 0.8, "domain": false, "title": "Height", "titleFontSize": 6.5, "titlePadding": 7.9, "titleY": 85.6}},
          "y2": {"field": "bot"},
          "detail": {"field": "seg"}
         }},
        {"data": {"name": "dC_strands"}, "mark": {"type": "rule", "color": "black", "strokeWidth": 0.8},
         "encoding": {"x": {"field": "u", "type": "quantitative"}, "y": {"field": "top", "type": "quantitative"}, "y2": {"field": "bot"}}},
        {"data": {"name": "dC_tops"}, "mark": {"type": "rule", "color": "black", "strokeWidth": 0.8},
         "encoding": {"x": {"field": "u", "type": "quantitative"}, "x2": {"field": "u2"}, "y": {"field": "h", "type": "quantitative"}}},
        {"data": {"name": "mcC"}, "mark": {"type": "rect"},
         "encoding": {"x": {"field": "u", "type": "quantitative"}, "x2": {"field": "u2"}, "y": {"datum": 0.3867}, "y2": {"datum": 0.508},
          "color": {"field": "module", "type": "nominal", "scale": null, "legend": null}}},
        {"data": {"values": [{}]}, "mark": {"type": "rule", "color": "#9a9a9a", "strokeWidth": 1},
         "encoding": {"x": {"datum": 0}, "x2": {"datum": 68}, "y": {"datum": 0.508}}},
        {"data": {"values": [{}]}, "mark": {"type": "rule", "color": "#9a9a9a", "strokeWidth": 1},
         "encoding": {"x": {"datum": 0}, "x2": {"datum": 68}, "y": {"datum": 0.3867}}},
        {"data": {"values": [{}]}, "mark": {"type": "rule", "color": "black", "strokeWidth": 0.8},
         "encoding": {"x": {"datum": -3.009}, "y": {"datum": 0.511}, "y2": {"datum": 1.0}}},
        {"data": {"values": [{"lab": "Module colors"}]}, "mark": {"type": "text", "align": "right", "baseline": "middle", "fontSize": 5.5, "color": "black"},
         "encoding": {"x": {"datum": -1.5}, "y": {"datum": 0.4505}, "text": {"field": "lab"}}}
       ]
      },
      {"width": 46, "height": 1, "data": {"values": []}, "mark": "point",
       "title": {"text": "D", "anchor": "start", "frame": "group", "offset": 21.15, "fontSize": 15, "fontWeight": "bold", "baseline": "alphabetic"}},
      {
       "width": 114, "height": 173.95,
       "view": {"stroke": "#333", "strokeWidth": 1},
       "title": {"text": "Scale independence", "anchor": "middle", "frame": "group", "fontSize": 8, "fontWeight": "bold", "offset": 3.65, "baseline": "alphabetic"},
       "layer": [
        {"data": {"name": "lo_sft"}, "mark": {"type": "text", "fontSize": 7.5},
         "encoding": {
          "x": {"field": "power", "type": "quantitative", "scale": {"domain": [0.24, 20.76], "nice": false, "zero": false},
                "axis": {"values": [5, 10, 15, 20], "tickSize": 4, "tickWidth": 0.8, "labelPadding": 6.4, "labelFontSize": 7, "labelFlush": false, "labelOverlap": false, "domain": false, "title": "Soft Threshold (power)", "titleFontSize": 7, "titlePadding": 9.6}},
          "y": {"field": "r2", "type": "quantitative", "scale": {"domain": [-0.087, 1.052], "nice": false, "zero": false},
                "axis": {"values": [0, 0.2, 0.4, 0.6, 0.8, 1.0], "format": ".1f", "labelAngle": 270, "labelAlign": "center", "labelBaseline": "bottom", "tickSize": 4, "tickWidth": 0.8, "labelPadding": 2.8, "labelFontSize": 7, "labelOverlap": false, "domain": false, "title": "Scale Free Topology Model Fit,signed R^2", "titleFontSize": 7, "titlePadding": 9.7}},
          "text": {"field": "power", "type": "quantitative"},
          "color": {"condition": {"test": "datum.power === 4", "value": "#E41A1A"}, "value": "#2424D4"}
         }},
        {"data": {"values": [{"cut": 0.85}]}, "mark": {"type": "rule", "color": "#F06A6A", "strokeWidth": 1.2}, "encoding": {"y": {"field": "cut", "type": "quantitative"}}}
       ]
      },
      {"width": 26, "height": 1, "data": {"values": []}, "mark": "point"},
      {
       "width": 114, "height": 173.95,
       "view": {"stroke": "#333", "strokeWidth": 1},
       "title": {"text": "Mean connectivity", "anchor": "middle", "frame": "group", "fontSize": 8, "fontWeight": "bold", "offset": 3.65, "baseline": "alphabetic"},
       "data": {"name": "lo_sft"},
       "mark": {"type": "text", "fontSize": 7.5},
       "encoding": {
        "x": {"field": "power", "type": "quantitative", "scale": {"domain": [0.24, 20.76], "nice": false, "zero": false},
              "axis": {"values": [5, 10, 15, 20], "tickSize": 4, "tickWidth": 0.8, "labelPadding": 6.4, "labelFontSize": 7, "labelFlush": false, "labelOverlap": false, "domain": false, "title": "Soft Threshold (power)", "titleFontSize": 7, "titlePadding": 9.6}},
        "y": {"field": "k", "type": "quantitative", "scale": {"domain": [-80, 2405], "nice": false, "zero": false},
              "axis": {"values": [0, 500, 1000, 1500, 2000], "format": "d", "labelAngle": 270, "labelAlign": "center", "labelBaseline": "bottom", "tickSize": 4, "tickWidth": 0.8, "labelPadding": 2, "labelFontSize": 7, "labelOverlap": false, "domain": false, "title": "Mean Connectivity", "titleFontSize": 7, "titlePadding": 10}},
        "text": {"field": "power", "type": "quantitative"},
        "color": {"condition": {"test": "datum.power === 4", "value": "#E41A1A"}, "value": "#2424D4"}
       }
      }
     ]
    },
    {
     "spacing": 17.6,
     "vconcat": [
      {
       "bounds": "flush",
       "spacing": 8,
       "title": {"text": "High MMP25", "orient": "bottom", "fontSize": 14, "fontWeight": "normal", "anchor": "middle", "frame": "bounds", "offset": -2.4, "dx": 4},
       "hconcat": [
        {"width": 53, "height": 1, "data": {"values": []}, "mark": "point",
         "title": {"text": "E", "anchor": "start", "frame": "group", "offset": -13.8, "fontSize": 15, "fontWeight": "bold", "baseline": "alphabetic"}},
        {
         "width": 230, "height": 235,
         "layer": [
          {"data": {"name": "edgesE"},
           "transform": [
            {"lookup": "s", "from": {"data": {"name": "nodesE"}, "key": "name", "fields": ["x", "y"]}, "as": ["sx", "sy"]},
            {"lookup": "t", "from": {"data": {"name": "nodesE"}, "key": "name", "fields": ["x", "y"]}, "as": ["tx", "ty"]}
           ],
           "mark": {"type": "rule", "color": "#3a3a3a", "strokeWidth": 0.9},
           "encoding": {
            "x": {"field": "sx", "type": "quantitative", "scale": {"domain": [67, 297], "nice": false, "zero": false},
                  "axis": {"title": "Status", "labels": false, "ticks": false, "domain": false, "grid": false, "titleFontSize": 14, "titlePadding": 11}},
            "y": {"field": "sy", "type": "quantitative", "scale": {"domain": [20, 255], "nice": false, "zero": false, "reverse": true}, "axis": null},
            "x2": {"field": "tx"}, "y2": {"field": "ty"}
           }},
          {"data": {"name": "nodesE"},
           "mark": {"type": "point", "shape": "M -0.89 -0.509 L 0.89 -0.509 Q 1 -0.509 1 -0.4 L 1 0.4 Q 1 0.509 0.89 0.509 L -0.89 0.509 Q -1 0.509 -1 0.4 L -1 -0.4 Q -1 -0.509 -0.89 -0.509 Z", "size": 3025, "filled": true, "opacity": 1, "strokeWidth": 0},
           "encoding": {
            "x": {"field": "x", "type": "quantitative"}, "y": {"field": "y", "type": "quantitative"},
            "color": {"field": "rank", "type": "quantitative", "scale": {"domain": [1, 10], "range": ["#F00C12", "#FAE21E"], "interpolate": "rgb"}, "legend": null}
           }},
          {"data": {"name": "nodesE"},
           "mark": {"type": "text", "fontSize": 9.8, "color": "#151515"},
           "encoding": {"x": {"field": "x", "type": "quantitative"}, "y": {"field": "y", "type": "quantitative"}, "text": {"field": "name"}}}
         ]
        },
        {"width": 67, "height": 1, "data": {"values": []}, "mark": "point",
         "title": {"text": "F", "anchor": "start", "frame": "group", "offset": -13.8, "fontSize": 15, "fontWeight": "bold", "baseline": "alphabetic"}},
        {
         "width": 250, "height": 235,
         "layer": [
          {"data": {"name": "edgesF"},
           "transform": [
            {"lookup": "s", "from": {"data": {"name": "nodesF"}, "key": "name", "fields": ["x", "y"]}, "as": ["sx", "sy"]},
            {"lookup": "t", "from": {"data": {"name": "nodesF"}, "key": "name", "fields": ["x", "y"]}, "as": ["tx", "ty"]}
           ],
           "mark": {"type": "rule", "color": "#3a3a3a", "strokeWidth": 0.9},
           "encoding": {
            "x": {"field": "sx", "type": "quantitative", "scale": {"domain": [50, 300], "nice": false, "zero": false},
                  "axis": {"title": "Stage", "labels": false, "ticks": false, "domain": false, "grid": false, "titleFontSize": 14, "titlePadding": 11}},
            "y": {"field": "sy", "type": "quantitative", "scale": {"domain": [20, 255], "nice": false, "zero": false, "reverse": true}, "axis": null},
            "x2": {"field": "tx"}, "y2": {"field": "ty"}
           }},
          {"data": {"name": "nodesF"},
           "mark": {"type": "point", "shape": "M -0.903 -0.532 L 0.903 -0.532 Q 1 -0.532 1 -0.435 L 1 0.435 Q 1 0.532 0.903 0.532 L -0.903 0.532 Q -1 0.532 -1 0.435 L -1 -0.435 Q -1 -0.532 -0.903 -0.532 Z", "size": 3844, "filled": true, "opacity": 1, "strokeWidth": 0},
           "encoding": {
            "x": {"field": "x", "type": "quantitative"}, "y": {"field": "y", "type": "quantitative"},
            "color": {"field": "rank", "type": "quantitative", "scale": {"domain": [1, 10], "range": ["#F00C12", "#FAE21E"], "interpolate": "rgb"}, "legend": null}
           }},
          {"data": {"name": "nodesF"},
           "mark": {"type": "text", "fontSize": 11, "color": "#151515"},
           "encoding": {"x": {"field": "x", "type": "quantitative"}, "y": {"field": "y", "type": "quantitative"}, "text": {"field": "name"}}}
         ]
        }
       ]
      },
      {
       "bounds": "flush",
       "spacing": 8,
       "title": {"text": "Low MMP25", "orient": "bottom", "fontSize": 14, "fontWeight": "normal", "anchor": "middle", "frame": "bounds", "offset": 21.5, "dx": 11},
       "hconcat": [
        {"width": 53, "height": 1, "data": {"values": []}, "mark": "point",
         "title": {"text": "G", "anchor": "start", "frame": "group", "offset": -11.2, "fontSize": 15, "fontWeight": "bold", "baseline": "alphabetic"}},
        {
         "width": 230, "height": 260,
         "layer": [
          {"data": {"name": "edgesG"},
           "transform": [
            {"lookup": "s", "from": {"data": {"name": "nodesG"}, "key": "name", "fields": ["x", "y"]}, "as": ["sx", "sy"]},
            {"lookup": "t", "from": {"data": {"name": "nodesG"}, "key": "name", "fields": ["x", "y"]}, "as": ["tx", "ty"]}
           ],
           "mark": {"type": "rule", "color": "#3a3a3a", "strokeWidth": 0.9},
           "encoding": {
            "x": {"field": "sx", "type": "quantitative", "scale": {"domain": [67, 297], "nice": false, "zero": false},
                  "axis": {"title": "Status", "labels": false, "ticks": false, "domain": false, "grid": false, "titleFontSize": 14, "titlePadding": 12.3, "titleX": 131}},
            "y": {"field": "sy", "type": "quantitative", "scale": {"domain": [45, 305], "nice": false, "zero": false, "reverse": true}, "axis": null},
            "x2": {"field": "tx"}, "y2": {"field": "ty"}
           }},
          {"data": {"name": "nodesG"},
           "mark": {"type": "point", "shape": "M -0.91 -0.47 L 0.91 -0.47 Q 1 -0.47 1 -0.38 L 1 0.38 Q 1 0.47 0.91 0.47 L -0.91 0.47 Q -1 0.47 -1 0.38 L -1 -0.38 Q -1 -0.47 -0.91 -0.47 Z", "size": 4356, "filled": true, "opacity": 1, "strokeWidth": 0},
           "encoding": {
            "x": {"field": "x", "type": "quantitative"}, "y": {"field": "y", "type": "quantitative"},
            "color": {"field": "rank", "type": "quantitative", "scale": {"domain": [1, 10], "range": ["#F00C12", "#FAE21E"], "interpolate": "rgb"}, "legend": null}
           }},
          {"data": {"name": "nodesG"},
           "mark": {"type": "text", "fontSize": 10.5, "color": "#151515"},
           "encoding": {"x": {"field": "x", "type": "quantitative"}, "y": {"field": "y", "type": "quantitative"}, "text": {"field": "name"}}}
         ]
        },
        {"width": 97, "height": 1, "data": {"values": []}, "mark": "point",
         "title": {"text": "H", "anchor": "start", "frame": "group", "offset": -11.2, "fontSize": 15, "fontWeight": "bold", "baseline": "alphabetic"}},
        {
         "width": 220, "height": 260,
         "layer": [
          {"data": {"name": "edgesH"},
           "transform": [
            {"lookup": "s", "from": {"data": {"name": "nodesH"}, "key": "name", "fields": ["x", "y"]}, "as": ["sx", "sy"]},
            {"lookup": "t", "from": {"data": {"name": "nodesH"}, "key": "name", "fields": ["x", "y"]}, "as": ["tx", "ty"]}
           ],
           "mark": {"type": "rule", "color": "#3a3a3a", "strokeWidth": 0.9},
           "encoding": {
            "x": {"field": "sx", "type": "quantitative", "scale": {"domain": [80, 300], "nice": false, "zero": false},
                  "axis": {"title": "Stage", "labels": false, "ticks": false, "domain": false, "grid": false, "titleFontSize": 14, "titlePadding": 12.3}},
            "y": {"field": "sy", "type": "quantitative", "scale": {"domain": [45, 305], "nice": false, "zero": false, "reverse": true}, "axis": null},
            "x2": {"field": "tx"}, "y2": {"field": "ty"}
           }},
          {"data": {"name": "nodesH"},
           "mark": {"type": "point", "shape": "M -0.9 -0.517 L 0.9 -0.517 Q 1 -0.517 1 -0.417 L 1 0.417 Q 1 0.517 0.9 0.517 L -0.9 0.517 Q -1 0.517 -1 0.417 L -1 -0.417 Q -1 -0.517 -0.9 -0.517 Z", "size": 3600, "filled": true, "opacity": 1, "strokeWidth": 0},
           "encoding": {
            "x": {"field": "x", "type": "quantitative"}, "y": {"field": "y", "type": "quantitative"},
            "color": {"field": "rank", "type": "quantitative", "scale": {"domain": [1, 10], "range": ["#F00C12", "#FAE21E"], "interpolate": "rgb"}, "legend": null}
           }},
          {"data": {"name": "nodesH"},
           "mark": {"type": "text", "fontSize": 9.6, "color": "#151515"},
           "encoding": {"x": {"field": "x", "type": "quantitative"}, "y": {"field": "y", "type": "quantitative"}, "text": {"field": "name"}}}
         ]
        }
       ]
      }
     ]
    }
   ]
  }
 ]
}
